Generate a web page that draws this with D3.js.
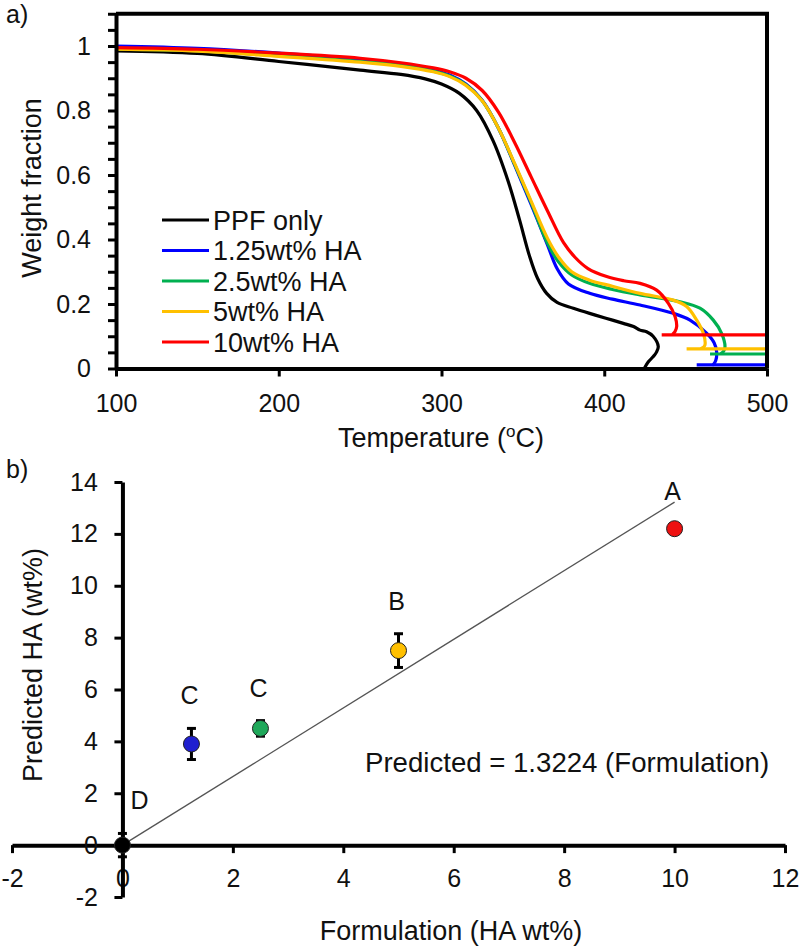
<!DOCTYPE html>
<html>
<head>
<meta charset="utf-8">
<script src="https://cdn.jsdelivr.net/npm/d3@7"></script>
<style>
  html, body { margin: 0; padding: 0; background: #fff; }
  svg text { font-family: "Liberation Sans", Arial, sans-serif; fill: #111; }
</style>
</head>
<body>
<svg id="chart" width="800" height="947"></svg>
<script>
// ---------- Panel a) TGA data ----------
const seriesNames  = ["PPF only", "1.25wt% HA", "2.5wt% HA", "5wt% HA", "10wt% HA"];
const seriesColors = ["#000000", "#0000ff", "#00b050", "#ffc000", "#ff0000"];

const tempPPF = [100, 150, 200, 250, 275, 290, 300, 311, 321.6, 331.8, 341, 348, 354, 359, 364.6, 371, 381, 391, 401, 411.7, 418, 422, 426, 430, 433.2, 432, 430.1, 427, 425];
const wPPF    = [0.985, 0.977, 0.952, 0.925, 0.912, 0.898, 0.882, 0.853, 0.8, 0.705, 0.58, 0.46, 0.35, 0.28, 0.233, 0.205, 0.187, 0.171, 0.156, 0.14, 0.13, 0.119, 0.114, 0.1, 0.068, 0.05, 0.037, 0.02, 0.004];

const temp125 = [100, 150, 200, 250, 275, 295, 305, 315, 325, 335, 345, 355, 365, 371, 378, 391, 405, 422, 442.4, 452.7, 463, 467.5, 469.1, 468.5, 467];
const w125    = [1.0, 0.993, 0.978, 0.958, 0.943, 0.925, 0.91, 0.882, 0.832, 0.745, 0.63, 0.51, 0.385, 0.31, 0.262, 0.233, 0.215, 0.197, 0.171, 0.15, 0.109, 0.08, 0.05, 0.025, 0.012];

const temp25  = [100, 150, 200, 250, 275, 295, 305, 315, 325, 335, 345, 355, 365, 372, 380, 391, 405, 422, 446.5, 458.8, 467, 472.1, 474.2, 473.5, 472];
const w25     = [0.99, 0.985, 0.97, 0.952, 0.94, 0.922, 0.907, 0.88, 0.83, 0.745, 0.632, 0.515, 0.39, 0.33, 0.29, 0.264, 0.245, 0.228, 0.207, 0.187, 0.15, 0.109, 0.068, 0.055, 0.047];

const temp5   = [100, 150, 200, 250, 275, 295, 305, 315, 325, 335, 345, 355, 365, 372, 380, 391, 405, 422, 442.4, 450.6, 456.8, 460.9, 461.9, 461, 459.8];
const w5      = [0.99, 0.984, 0.968, 0.95, 0.937, 0.92, 0.905, 0.878, 0.83, 0.745, 0.635, 0.52, 0.405, 0.345, 0.3, 0.274, 0.255, 0.233, 0.212, 0.192, 0.15, 0.109, 0.073, 0.066, 0.063];

const temp10  = [100, 150, 200, 250, 275, 295, 305, 315, 325, 335, 345, 355, 365, 375, 382, 390, 401.5, 412, 422, 432.2, 439.4, 443.5, 444.5, 443.5, 442.4];
const w10     = [0.995, 0.99, 0.978, 0.962, 0.948, 0.932, 0.92, 0.9, 0.862, 0.795, 0.7, 0.595, 0.49, 0.39, 0.345, 0.31, 0.285, 0.272, 0.264, 0.243, 0.202, 0.161, 0.13, 0.115, 0.108];

// final residue segments: start temperature, end temperature, level
const tailStart = [null, 456.8, 465, 450.6, 435.3];
const tailEnd   = [null, 500, 500, 500, 500];
const tailLevel = [null, 0.011, 0.045, 0.061, 0.104];

const tempTicks   = [100, 200, 300, 400, 500];
const weightTicks = [0, 0.2, 0.4, 0.6, 0.8, 1];

// ---------- Panel b) prediction data ----------
const formulation = [0, 1.25, 2.5, 5, 10];
const predicted   = [0, 3.9, 4.5, 7.5, 12.2];
const predErr     = [0.45, 0.6, 0.3, 0.65, 0.2];
const groupLetter = ["D", "C", "C", "B", "A"];
const pointColors = ["#000000", "#1f1fcf", "#1fa85a", "#ffc000", "#ee1111"];
const fitSlope    = 1.3224;
const fitRange    = [0, 10];
const formTicks   = [-2, 0, 2, 4, 6, 8, 10, 12];
const predTicks   = [-2, 0, 2, 4, 6, 8, 10, 12, 14];

const svg = d3.select("#chart");
svg.append("rect").attr("width", 800).attr("height", 947).attr("fill", "#fff");

const FONT_TICK = 25, FONT_TEXT = 27;

// ================= Panel a =================
const xT = d3.scaleLinear().domain([100, 500]).range([116, 767]);
const yT = d3.scaleLinear().domain([0, 1.1]).range([368.5, 13.75]);

const gA = svg.append("g");

const lineT = d3.line().x(d => xT(d[0])).y(d => yT(d[1])).curve(d3.curveCatmullRom.alpha(0.5));
const temps = [tempPPF, temp125, temp25, temp5, temp10];
const ws    = [wPPF, w125, w25, w5, w10];
svg.append("clipPath").attr("id", "clipA").append("rect")
  .attr("x", 116).attr("y", 13).attr("width", 651).attr("height", 356);
const curvesG = gA.append("g").attr("clip-path", "url(#clipA)");
temps.forEach((ts, i) => {
  const pts = ts.map((t, j) => [t, ws[i][j]]);
  curvesG.append("path").datum(pts).attr("d", lineT)
    .attr("fill", "none").attr("stroke", seriesColors[i]).attr("stroke-width", 3.2)
    .attr("stroke-linejoin", "round").attr("stroke-linecap", "round");
  if (tailStart[i] != null) {
    curvesG.append("path")
      .datum([[tailStart[i], tailLevel[i]], [tailEnd[i], tailLevel[i]]])
      .attr("d", d3.line().x(d => xT(d[0])).y(d => yT(d[1])))
      .attr("fill", "none").attr("stroke", seriesColors[i]).attr("stroke-width", 3.2);
  }
});

// frame top/right
gA.append("line").attr("x1", xT(100)).attr("x2", xT(500) + 2).attr("y1", yT(1.1)).attr("y2", yT(1.1))
  .attr("stroke", "#000").attr("stroke-width", 4);
gA.append("line").attr("x1", xT(500)).attr("x2", xT(500)).attr("y1", yT(1.1)).attr("y2", yT(0))
  .attr("stroke", "#000").attr("stroke-width", 4);

// y axis (minor ticks every 0.05)
const minorW = d3.range(0, 1.1001, 0.05).map(v => +v.toFixed(2));
const yAxisA = d3.axisLeft(yT).tickValues(minorW).tickSize(8).tickSizeOuter(0).tickPadding(17)
  .tickFormat(v => weightTicks.some(w => Math.abs(w - v) < 1e-6) ? String(+v.toFixed(1)) : "");
const gyA = gA.append("g").attr("transform", `translate(${xT(100)},0)`).call(yAxisA);
const xAxisA = d3.axisBottom(xT).tickValues(tempTicks).tickSize(8).tickSizeOuter(0).tickPadding(17.5)
  .tickFormat(d3.format("d"));
const gxA = gA.append("g").attr("transform", `translate(0,${yT(0)})`).call(xAxisA);

[gyA, gxA].forEach(g => {
  g.select(".domain").attr("stroke", "#000").attr("stroke-width", 4);
  g.selectAll(".tick line").attr("stroke", "#000").attr("stroke-width", 3);
  g.selectAll(".tick text").attr("font-size", FONT_TICK).attr("fill", "#111")
    .style("font-family", '"Liberation Sans", Arial, sans-serif');
});

// legend
const legend = gA.append("g");
seriesNames.forEach((name, i) => {
  const yy = 220 + i * 30.5;
  legend.append("line").attr("x1", 162).attr("x2", 209).attr("y1", yy).attr("y2", yy)
    .attr("stroke", seriesColors[i]).attr("stroke-width", 3);
  legend.append("text").attr("x", 213).attr("y", yy).attr("dy", "0.36em")
    .attr("font-size", FONT_TEXT).text(name);
});

// axis titles
gA.append("text").attr("transform", "translate(41,188) rotate(-90)").attr("text-anchor", "middle")
  .attr("font-size", FONT_TEXT).text("Weight fraction");
const tTitle = gA.append("text").attr("x", 441).attr("y", 447).attr("text-anchor", "middle")
  .attr("font-size", FONT_TEXT);
tTitle.append("tspan").text("Temperature (");
tTitle.append("tspan").attr("font-size", 17).attr("dy", -10).text("o");
tTitle.append("tspan").attr("dy", 10).text("C)");

gA.append("text").attr("x", 6).attr("y", 23).attr("font-size", FONT_TICK).text("a)");

// ================= Panel b =================
const xB = d3.scaleLinear().domain([-2, 12]).range([12, 785]);
const yB = d3.scaleLinear().domain([-2, 14]).range([897, 482]);
const gB = svg.append("g");

const xAxisB = d3.axisBottom(xB).tickValues(formTicks).tickSize(8).tickSizeOuter(0).tickPadding(16)
  .tickFormat(d3.format("d"));
const yAxisB = d3.axisLeft(yB).tickValues(predTicks).tickSize(8).tickSizeOuter(0).tickPadding(16.5)
  .tickFormat(d3.format("d"));
const gxB = gB.append("g").attr("transform", `translate(0,${yB(0)})`).call(xAxisB);
const gyB = gB.append("g").attr("transform", `translate(${xB(0)},0)`).call(yAxisB);
[gxB, gyB].forEach(g => {
  g.select(".domain").attr("stroke", "#000").attr("stroke-width", 4);
  g.selectAll(".tick line").attr("stroke", "#000").attr("stroke-width", 3);
  g.selectAll(".tick text").attr("font-size", FONT_TICK).attr("fill", "#111")
    .style("font-family", '"Liberation Sans", Arial, sans-serif');
});
gB.selectAll(".tick text").text(function() { return this.textContent.replace("\u2212", "-"); });

// fit line
gB.append("line")
  .attr("x1", xB(fitRange[0])).attr("y1", yB(fitSlope * fitRange[0]))
  .attr("x2", xB(fitRange[1])).attr("y2", yB(fitSlope * fitRange[1]))
  .attr("stroke", "#555").attr("stroke-width", 1.3);

// error bars
formulation.forEach((f, i) => {
  const cx = xB(f);
  const y1 = yB(predicted[i] + predErr[i]), y2 = yB(predicted[i] - predErr[i]);
  gB.append("line").attr("x1", cx).attr("x2", cx).attr("y1", y1).attr("y2", y2)
    .attr("stroke", "#000").attr("stroke-width", 3);
  [y1, y2].forEach(yy => gB.append("line").attr("x1", cx - 4.5).attr("x2", cx + 4.5)
    .attr("y1", yy).attr("y2", yy).attr("stroke", "#000").attr("stroke-width", 3));
});
// points
formulation.forEach((f, i) => {
  gB.append("circle").attr("cx", xB(f)).attr("cy", yB(predicted[i])).attr("r", 8)
    .attr("fill", pointColors[i]).attr("stroke", "#222").attr("stroke-width", 1);
});
// group letters
formulation.forEach((f, i) => {
  const atAxis = f === 0;
  gB.append("text")
    .attr("x", xB(f) + (atAxis ? 17 : -2))
    .attr("y", yB(predicted[i] + predErr[i]) - 24)
    .attr("text-anchor", "middle")
    .attr("font-size", FONT_TICK).text(groupLetter[i]);
});

// equation
gB.append("text").attr("x", 365).attr("y", 772).attr("font-size", 27.6)
  .text(`Predicted = ${fitSlope} (Formulation)`);

// titles
gB.append("text").attr("transform", "translate(42,665) rotate(-90)").attr("text-anchor", "middle")
  .attr("font-size", FONT_TEXT).text("Predicted HA (wt%)");
gB.append("text").attr("x", 451).attr("y", 940).attr("text-anchor", "middle")
  .attr("font-size", FONT_TEXT).text("Formulation (HA wt%)");
gB.append("text").attr("x", 6).attr("y", 478).attr("font-size", FONT_TICK).text("b)");
</script>
</body>
</html>
